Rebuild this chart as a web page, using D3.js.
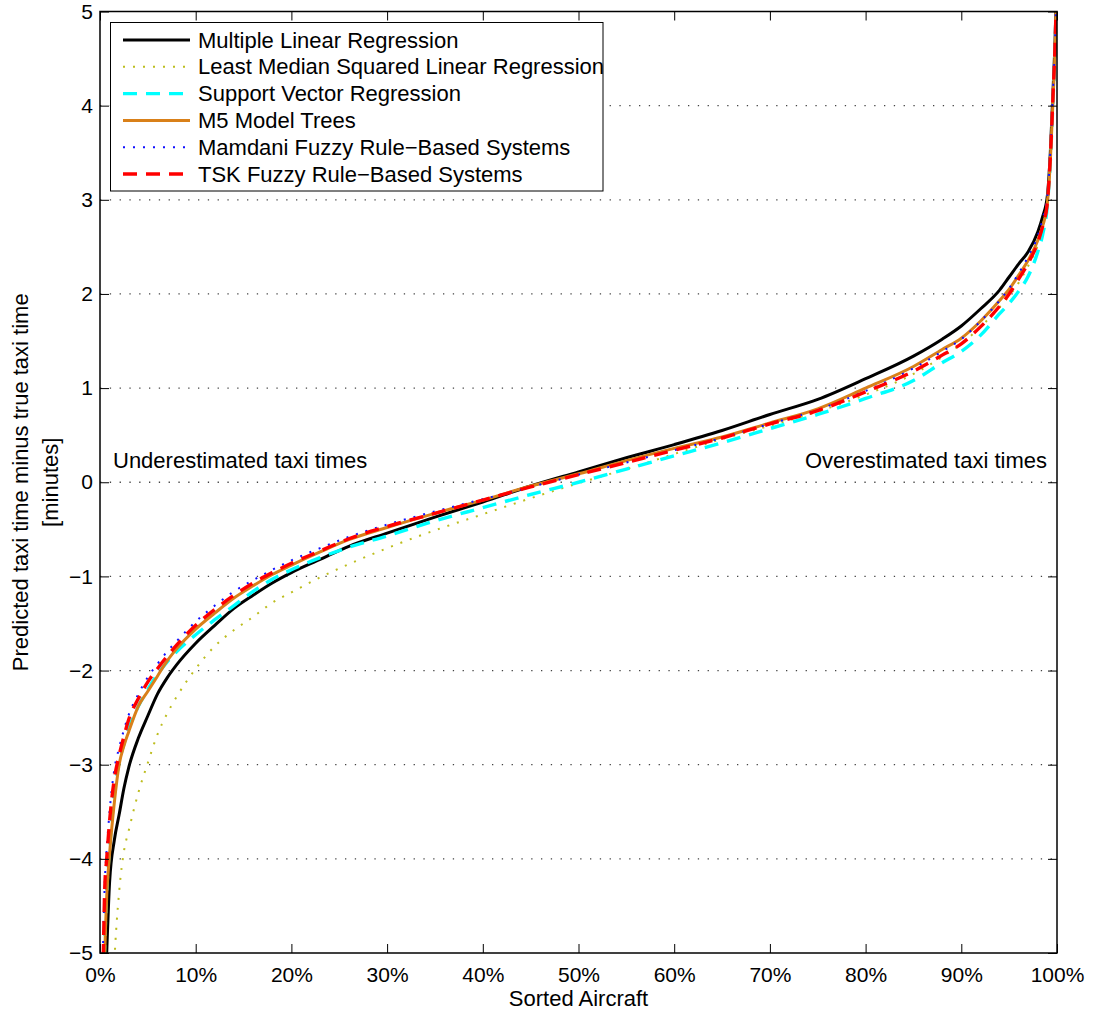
<!DOCTYPE html>
<html>
<head>
<meta charset="utf-8">
<script src="https://cdn.jsdelivr.net/npm/d3@7"></script>
<style>
  html, body { margin: 0; padding: 0; background: #fff; }
  svg { display: block; font-family: "Liberation Sans", Arial, Helvetica, sans-serif; }
</style>
</head>
<body>
<svg id="chart" width="1094" height="1013"></svg>
<script>
// ---- data (x = percent of sorted aircraft, y = predicted minus true taxi time, minutes) ----
const pct = [0.3, 0.5, 0.7, 1, 1.5, 2, 2.5, 3, 4, 5, 6, 7, 8, 10, 12, 14, 16, 18, 20, 23, 26, 30, 35, 40, 45, 50, 55, 60, 65, 70, 75, 80, 85, 88, 90, 92, 94, 95, 96, 97, 98, 98.5, 99, 99.3, 99.6, 99.8, 100];

const mlr = [-6.5, -5.6, -5.0, -4.25, -3.8, -3.53, -3.25, -3.03, -2.72, -2.48, -2.25, -2.08, -1.94, -1.71, -1.52, -1.34, -1.20, -1.07, -0.96, -0.82, -0.68, -0.54, -0.37, -0.21, -0.04, 0.11, 0.26, 0.40, 0.55, 0.72, 0.88, 1.10, 1.34, 1.52, 1.66, 1.84, 2.04, 2.18, 2.32, 2.45, 2.66, 2.82, 3.05, 3.5, 4.2, 4.7, 5.5];

const lms = [-9, -8, -7.2, -6.5, -5.1, -4.35, -3.92, -3.7, -3.3, -2.98, -2.68, -2.46, -2.28, -1.98, -1.74, -1.57, -1.43, -1.28, -1.17, -1.01, -0.87, -0.70, -0.51, -0.34, -0.17, -0.01, 0.14, 0.30, 0.46, 0.60, 0.75, 0.93, 1.15, 1.33, 1.47, 1.65, 1.86, 1.98, 2.12, 2.30, 2.52, 2.68, 3.0, 3.45, 4.1, 4.6, 5.5];

const svr = [-5.8, -4.9, -4.35, -3.9, -3.3, -2.97, -2.78, -2.62, -2.38, -2.20, -2.04, -1.91, -1.80, -1.62, -1.46, -1.31, -1.16, -1.03, -0.93, -0.80, -0.69, -0.57, -0.41, -0.27, -0.13, 0.0, 0.14, 0.28, 0.42, 0.57, 0.72, 0.89, 1.08, 1.27, 1.39, 1.56, 1.79, 1.90, 2.03, 2.19, 2.45, 2.63, 2.95, 3.4, 4.1, 4.6, 5.5];

const m5 = [-6.0, -5.0, -4.4, -3.95, -3.4, -3.0, -2.8, -2.65, -2.38, -2.22, -2.06, -1.90, -1.77, -1.56, -1.39, -1.23, -1.10, -0.98, -0.88, -0.74, -0.61, -0.48, -0.33, -0.19, -0.04, 0.09, 0.23, 0.36, 0.48, 0.63, 0.78, 1.0, 1.23, 1.41, 1.53, 1.71, 1.93, 2.05, 2.20, 2.36, 2.57, 2.72, 2.97, 3.4, 4.1, 4.6, 5.5];

const mamdani = [-5.0, -4.25, -3.9, -3.5, -3.05, -2.82, -2.63, -2.47, -2.25, -2.07, -1.93, -1.80, -1.69, -1.48, -1.31, -1.16, -1.04, -0.93, -0.83, -0.70, -0.58, -0.45, -0.31, -0.18, -0.05, 0.08, 0.21, 0.34, 0.47, 0.62, 0.77, 0.97, 1.21, 1.39, 1.52, 1.71, 1.93, 2.06, 2.22, 2.40, 2.62, 2.8, 3.05, 3.5, 4.2, 4.7, 5.5];

const tsk = [-5.3, -4.3, -4.0, -3.6, -3.15, -2.9, -2.7, -2.52, -2.3, -2.12, -1.98, -1.85, -1.73, -1.52, -1.35, -1.20, -1.07, -0.96, -0.86, -0.73, -0.60, -0.47, -0.33, -0.19, -0.05, 0.08, 0.21, 0.34, 0.47, 0.62, 0.76, 0.96, 1.18, 1.35, 1.47, 1.65, 1.87, 2.00, 2.16, 2.33, 2.55, 2.72, 2.98, 3.45, 4.15, 4.65, 5.5];

const seriesNames = [
  "Multiple Linear Regression",
  "Least Median Squared Linear Regression",
  "Support Vector Regression",
  "M5 Model Trees",
  "Mamdani Fuzzy Rule\u2212Based Systems",
  "TSK Fuzzy Rule\u2212Based Systems"
];
const seriesValues = [mlr, lms, svr, m5, mamdani, tsk];

const xTicks = [0, 10, 20, 30, 40, 50, 60, 70, 80, 90, 100];
const yTicks = [-5, -4, -3, -2, -1, 0, 1, 2, 3, 4, 5];

// ---- styles ----
const styles = [
  { color: "#000000", width: 3,   dash: null },
  { color: "#BDBD1E", width: 2,   dash: "2,8" },
  { color: "#00FFFF", width: 3.4, dash: "14,9" },
  { color: "#D98019", width: 3,   dash: null },
  { color: "#1010FF", width: 2,   dash: "2,8" },
  { color: "#FF0000", width: 3.4, dash: "14,9" }
];

const L = 100, R = 1057, T = 11.5, B = 953;
const svg = d3.select("#chart");
const x = d3.scaleLinear().domain([0, 100]).range([L, R]);
const y = d3.scaleLinear().domain([-5, 5]).range([B, T]);
const FS = 21;
const FL = 22;

// grid (horizontal dotted)
svg.append("g").selectAll("line")
  .data(yTicks.filter(v => v > -5 && v < 5))
  .join("line")
  .attr("x1", L).attr("x2", R)
  .attr("y1", d => y(d)).attr("y2", d => y(d))
  .attr("stroke", "#444").attr("stroke-width", 1.3)
  .attr("stroke-dasharray", "1.3,8.5");

// clip
svg.append("defs").append("clipPath").attr("id", "plotclip")
  .append("rect").attr("x", L).attr("y", T).attr("width", R - L).attr("height", B - T);

const line = d3.line()
  .x((d, i) => x(pct[i]))
  .y(d => y(d))
  .curve(d3.curveMonotoneX);

const lines = svg.append("g").attr("clip-path", "url(#plotclip)");
seriesValues.forEach((vals, k) => {
  const st = styles[k];
  lines.append("path")
    .attr("d", line(vals))
    .attr("fill", "none")
    .attr("stroke", st.color)
    .attr("stroke-width", st.width)
    .attr("stroke-dasharray", st.dash)
    .attr("stroke-linejoin", "round");
});

// axes
const axB = svg.append("g").attr("transform", `translate(0,${B})`)
  .call(d3.axisBottom(x).tickValues(xTicks).tickFormat(d => d + "%").tickSizeInner(-9).tickSizeOuter(0).tickPadding(14));
const axL = svg.append("g").attr("transform", `translate(${L},0)`)
  .call(d3.axisLeft(y).tickValues(yTicks).tickFormat(d3.format("d")).tickSizeInner(-9).tickSizeOuter(0).tickPadding(7));
const axT = svg.append("g").attr("transform", `translate(0,${T})`)
  .call(d3.axisTop(x).tickValues(xTicks).tickFormat("").tickSizeInner(-9).tickSizeOuter(0));
const axR = svg.append("g").attr("transform", `translate(${R},0)`)
  .call(d3.axisRight(y).tickValues(yTicks).tickFormat("").tickSizeInner(-9).tickSizeOuter(0));
[axB, axL, axT, axR].forEach(g => {
  g.select(".domain").remove();
  g.selectAll(".tick line").attr("stroke", "#000").attr("stroke-width", 1);
  g.selectAll("text").attr("font-size", FS).attr("fill", "#000")
    .attr("font-family", "'Liberation Sans', Arial, sans-serif");
});

// box
svg.append("rect").attr("x", L).attr("y", T).attr("width", R - L).attr("height", B - T)
  .attr("fill", "none").attr("stroke", "#000").attr("stroke-width", 1.5);

// annotations
svg.append("text").attr("x", 113).attr("y", 468).attr("font-size", FL).text("Underestimated taxi times");
svg.append("text").attr("x", 1047).attr("y", 468).attr("font-size", FL).attr("text-anchor", "end").text("Overestimated taxi times");

// axis labels
svg.append("text").attr("x", (L + R) / 2).attr("y", 1006).attr("font-size", FL)
  .attr("text-anchor", "middle").text("Sorted Aircraft");
const yl = svg.append("text").attr("transform", `translate(0,${(T + B) / 2}) rotate(-90)`)
  .attr("font-size", FL).attr("text-anchor", "middle");
yl.append("tspan").attr("x", 0).attr("y", 28).text("Predicted taxi time minus true taxi time");
yl.append("tspan").attr("x", 0).attr("y", 58).text("[minutes]");

// legend
const lg = svg.append("g");
lg.append("rect").attr("x", 110.5).attr("y", 22.5).attr("width", 492.5).attr("height", 168.5)
  .attr("fill", "#fff").attr("stroke", "#000").attr("stroke-width", 1);
const rowY = d3.scaleLinear().domain([0, 5]).range([40, 174]);
seriesNames.forEach((name, k) => {
  const st = styles[k];
  const cy = rowY(k);
  lg.append("line").attr("x1", 123).attr("x2", 190).attr("y1", cy).attr("y2", cy)
    .attr("stroke", st.color).attr("stroke-width", st.width)
    .attr("stroke-dasharray", st.dash);
  lg.append("text").attr("x", 198).attr("y", cy + 7.5).attr("font-size", FL).text(name);
});
</script>
</body>
</html>
